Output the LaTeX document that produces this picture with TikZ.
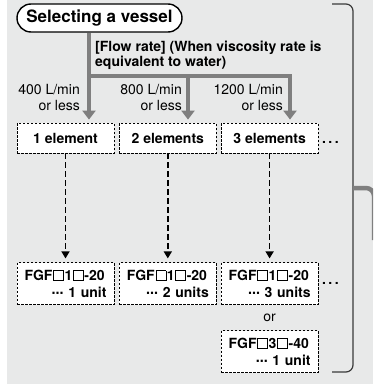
\documentclass[tikz,border=0pt]{standalone}
\usepackage{fontspec}
\setmainfont{TeX Gyre Heros}
\newfontfamily\symfont{DejaVu Sans}
\usetikzlibrary{
  arrows.meta,
  calc,
  positioning
}
\definecolor{panelgray}{HTML}{E8E9E9}
\definecolor{flowgray}{HTML}{7F7F7F}
\definecolor{bracketgray}{HTML}{3A3A3A}
\newcommand{\sq}{\kern0.8pt{\setlength{\fboxsep}{0pt}\setlength{\fboxrule}{0.5pt}%
  \fbox{\rule{0pt}{9.5pt}\rule{9.5pt}{0pt}}}\kern0.8pt}
\newcommand{\mdots}{{\symfont\bfseries\fontsize{12}{12}\selectfont ⋯}}
\newcommand{\moredots}{.\kern2.5pt.\kern2.5pt.}

\begin{document}
\begin{tikzpicture}[
  x=1pt, y=-1pt,
  every node/.style={font=\fontsize{14}{16}\selectfont},
  pill/.style={draw, line width=1.4pt, fill=white, rounded corners=14pt,
    minimum width=165pt, minimum height=28pt, inner sep=0pt,
    font=\fontsize{17}{20}\selectfont\bfseries},
  flowline/.style={flowgray, line width=4.5pt},
  flow/.style={flowline, -{Triangle[width=13pt,length=9pt]}},
  rate/.style={align=right, inner sep=0pt, anchor=east},
  elbox/.style={draw, fill=white, line width=0.8pt, dash pattern=on 2.5pt off 1.5pt,
    minimum width=97pt, minimum height=30pt, inner sep=0pt,
    font=\fontsize{14}{16}\selectfont\bfseries},
  fgfbox/.style={elbox, minimum height=42pt, text width=82pt, align=left,
    font=\fontsize{14}{17}\selectfont\bfseries},
  drop/.style={black, line width=1.5pt, dash pattern=on 6pt off 3pt,
    shorten >=4pt, -{Triangle[width=8pt,length=7pt]}},
  bracket/.style={bracketgray, line width=1.2pt, rounded corners=7pt},
]

% ═══════════════════════════════════════════
% PANEL
% ═══════════════════════════════════════════
\clip (0,0) rectangle (373,385);
\fill[panelgray] (7,0) rectangle (373,384);

% ═══════════════════════════════════════════
% START AND FLOW RATE SPLIT
% ═══════════════════════════════════════════
\node[pill] (select) at (99.5,18) {Selecting a vessel};

\coordinate (split) at (89,76);
\coordinate (drop2) at (188,76);
\coordinate (drop3) at (290,76);

\node[anchor=north west, align=left, inner sep=0pt,
  font=\fontsize{14}{15}\selectfont\bfseries] (flowtext) at (95,41)
  {[Flow rate] (When viscosity rate is\\equivalent to water)};

% element boxes
\node[elbox] (el1) at (65.5,138) {1 element};
\node[elbox, right=4.5pt of el1] (el2) {2 elements};
\node[elbox, right=4pt of el2] (el3) {3 elements};
\node[anchor=base west, font=\fontsize{14}{16}\selectfont\bfseries] (more1)
  at (el3.base east) {\moredots};

% gray arrows
\draw[flow, shorten >=3pt] (select.south -| split) -- (el1.north -| split);
\draw[flowline] (split) -- (drop2);
\draw[flow, shorten >=3pt] (drop2) -- (el2.north -| drop2);
\draw[flow, shorten >=3pt] (drop2) -- (drop3) -- (el3.north -| drop3);

% flow rate labels
\node[rate] (rate1) at (80,98) {400 L/min\\or less};
\node[rate] (rate2) at (182,98) {800 L/min\\or less};
\node[rate] (rate3) at (283,98) {1200 L/min\\or less};

% ═══════════════════════════════════════════
% RESULTING UNITS
% ═══════════════════════════════════════════
\node[fgfbox, below=109pt of el1] (fgf1) {\mbox{FGF\sq1\sq-20}\\\hfill\mdots\ 1 unit};
\node[fgfbox, below=109pt of el2] (fgf2) {\mbox{FGF\sq1\sq-20}\\\hfill\mdots\ 2 units};
\node[fgfbox, below=109pt of el3] (fgf3) {\mbox{FGF\sq1\sq-20}\\\hfill\mdots\ 3 units};
\node[fgfbox, below=25pt of fgf3] (fgf4) {\mbox{FGF\sq3\sq-40}\\\hfill\mdots\ 1 unit};
\node[anchor=west, font=\fontsize{14}{16}\selectfont\bfseries] (more2)
  at (fgf3.east) {\moredots};
\node (or) at ($(fgf3.south)!0.5!(fgf4.north)$) {or};

\draw[drop] (el1) -- (fgf1);
\draw[drop] (el2) -- (fgf2);
\draw[drop] (el3) -- (fgf3);

% ═══════════════════════════════════════════
% BRACKET AND EXIT
% ═══════════════════════════════════════════
\draw[bracket] (332,4) -| (353,372) -- (332,372);
\coordinate (brk) at (353,188);
\coordinate (exit) at (374,240);
\draw[flowline, rounded corners=8pt] (brk) -| (exit);

\end{tikzpicture}
\end{document}
